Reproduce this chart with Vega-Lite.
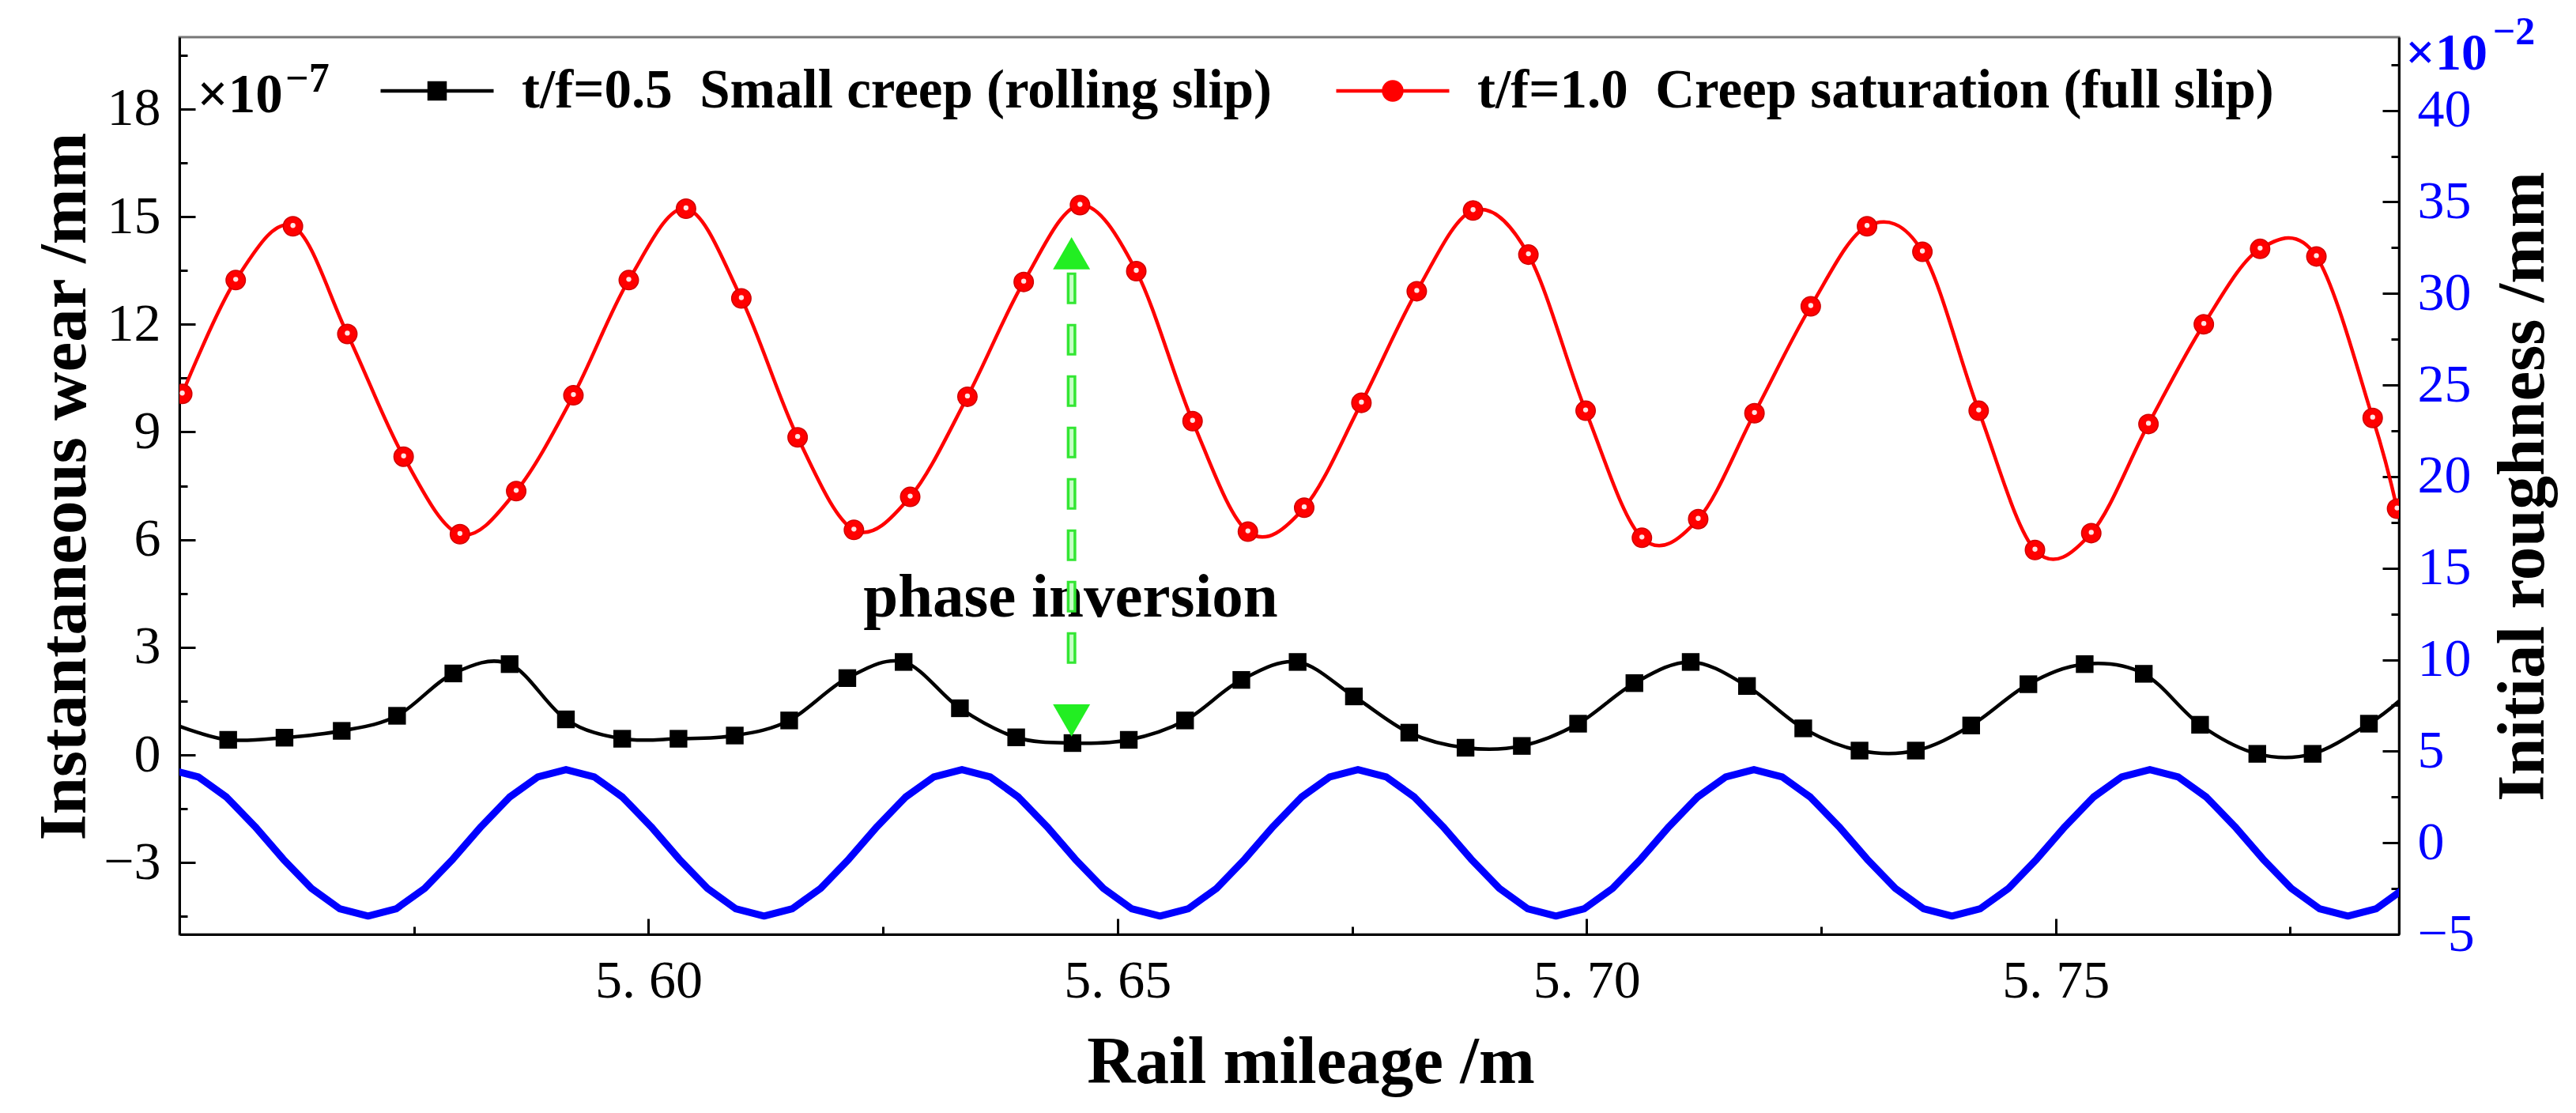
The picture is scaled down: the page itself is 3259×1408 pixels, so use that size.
{
  "$schema": "https://vega.github.io/schema/vega-lite/v6.json",
  "width": 2808,
  "height": 1135,
  "autosize": "none",
  "padding": {"left": 227, "top": 47, "right": 224, "bottom": 226},
  "background": "white",
  "config": {
    "view": {"stroke": "#777777", "strokeWidth": 3},
    "font": "Liberation Serif"
  },
  "datasets": {
    "wear": [
      {"s": "0.5", "x": 5.5501, "v": 0.79},
      {"s": "0.5", "x": 5.5552, "v": 0.42},
      {"s": "0.5", "x": 5.5612, "v": 0.48},
      {"s": "0.5", "x": 5.5673, "v": 0.67},
      {"s": "0.5", "x": 5.5732, "v": 1.09},
      {"s": "0.5", "x": 5.5792, "v": 2.27},
      {"s": "0.5", "x": 5.5852, "v": 2.53},
      {"s": "0.5", "x": 5.5912, "v": 0.99},
      {"s": "0.5", "x": 5.5972, "v": 0.45},
      {"s": "0.5", "x": 5.6032, "v": 0.45},
      {"s": "0.5", "x": 5.6092, "v": 0.54},
      {"s": "0.5", "x": 5.6150, "v": 0.96},
      {"s": "0.5", "x": 5.6212, "v": 2.14},
      {"s": "0.5", "x": 5.6272, "v": 2.59},
      {"s": "0.5", "x": 5.6332, "v": 1.30},
      {"s": "0.5", "x": 5.6392, "v": 0.49},
      {"s": "0.5", "x": 5.6452, "v": 0.33},
      {"s": "0.5", "x": 5.6512, "v": 0.42},
      {"s": "0.5", "x": 5.6572, "v": 0.96},
      {"s": "0.5", "x": 5.6632, "v": 2.09},
      {"s": "0.5", "x": 5.6692, "v": 2.59},
      {"s": "0.5", "x": 5.6752, "v": 1.63},
      {"s": "0.5", "x": 5.6811, "v": 0.62},
      {"s": "0.5", "x": 5.6871, "v": 0.20},
      {"s": "0.5", "x": 5.6931, "v": 0.25},
      {"s": "0.5", "x": 5.6991, "v": 0.87},
      {"s": "0.5", "x": 5.7051, "v": 2.00},
      {"s": "0.5", "x": 5.7111, "v": 2.59},
      {"s": "0.5", "x": 5.7171, "v": 1.92},
      {"s": "0.5", "x": 5.7231, "v": 0.74},
      {"s": "0.5", "x": 5.7291, "v": 0.12},
      {"s": "0.5", "x": 5.7351, "v": 0.12},
      {"s": "0.5", "x": 5.7410, "v": 0.82},
      {"s": "0.5", "x": 5.7471, "v": 1.97},
      {"s": "0.5", "x": 5.7531, "v": 2.53},
      {"s": "0.5", "x": 5.7594, "v": 2.26},
      {"s": "0.5", "x": 5.7654, "v": 0.84},
      {"s": "0.5", "x": 5.7715, "v": 0.03},
      {"s": "0.5", "x": 5.7774, "v": 0.03},
      {"s": "0.5", "x": 5.7834, "v": 0.87},
      {"s": "0.5", "x": 5.7866, "v": 1.50},
      {"s": "1.0", "x": 5.5503, "v": 10.06},
      {"s": "1.0", "x": 5.5560, "v": 13.23},
      {"s": "1.0", "x": 5.5621, "v": 14.73},
      {"s": "1.0", "x": 5.5679, "v": 11.73},
      {"s": "1.0", "x": 5.5739, "v": 8.31},
      {"s": "1.0", "x": 5.5799, "v": 6.15},
      {"s": "1.0", "x": 5.5859, "v": 7.35},
      {"s": "1.0", "x": 5.5920, "v": 10.02},
      {"s": "1.0", "x": 5.5979, "v": 13.23},
      {"s": "1.0", "x": 5.6040, "v": 15.22},
      {"s": "1.0", "x": 5.6099, "v": 12.72},
      {"s": "1.0", "x": 5.6159, "v": 8.85},
      {"s": "1.0", "x": 5.6219, "v": 6.27},
      {"s": "1.0", "x": 5.6279, "v": 7.19},
      {"s": "1.0", "x": 5.6340, "v": 9.98},
      {"s": "1.0", "x": 5.6400, "v": 13.18},
      {"s": "1.0", "x": 5.6460, "v": 15.32},
      {"s": "1.0", "x": 5.6520, "v": 13.48},
      {"s": "1.0", "x": 5.6580, "v": 9.30},
      {"s": "1.0", "x": 5.6639, "v": 6.22},
      {"s": "1.0", "x": 5.6699, "v": 6.89},
      {"s": "1.0", "x": 5.6760, "v": 9.81},
      {"s": "1.0", "x": 5.6819, "v": 12.92},
      {"s": "1.0", "x": 5.6879, "v": 15.17},
      {"s": "1.0", "x": 5.6938, "v": 13.94},
      {"s": "1.0", "x": 5.6999, "v": 9.59},
      {"s": "1.0", "x": 5.7059, "v": 6.05},
      {"s": "1.0", "x": 5.7119, "v": 6.57},
      {"s": "1.0", "x": 5.7179, "v": 9.52},
      {"s": "1.0", "x": 5.7239, "v": 12.50},
      {"s": "1.0", "x": 5.7299, "v": 14.73},
      {"s": "1.0", "x": 5.7358, "v": 14.02},
      {"s": "1.0", "x": 5.7418, "v": 9.59},
      {"s": "1.0", "x": 5.7478, "v": 5.71},
      {"s": "1.0", "x": 5.7538, "v": 6.18},
      {"s": "1.0", "x": 5.7599, "v": 9.22},
      {"s": "1.0", "x": 5.7658, "v": 12.00},
      {"s": "1.0", "x": 5.7718, "v": 14.10},
      {"s": "1.0", "x": 5.7778, "v": 13.89},
      {"s": "1.0", "x": 5.7838, "v": 9.39},
      {"s": "1.0", "x": 5.7864, "v": 6.86}
    ],
    "rough": [
      {"x": 5.54900, "r": 4.0}, {"x": 5.55202, "r": 3.6}, {"x": 5.55503, "r": 2.49}, {"x": 5.55805, "r": 0.89},
      {"x": 5.56106, "r": -0.89}, {"x": 5.56408, "r": -2.49}, {"x": 5.56709, "r": -3.6}, {"x": 5.57011, "r": -4.0},
      {"x": 5.57312, "r": -3.6}, {"x": 5.57614, "r": -2.49}, {"x": 5.57915, "r": -0.89}, {"x": 5.58217, "r": 0.89},
      {"x": 5.58518, "r": 2.49}, {"x": 5.58820, "r": 3.6}, {"x": 5.59121, "r": 4.0}, {"x": 5.59423, "r": 3.6},
      {"x": 5.59724, "r": 2.49}, {"x": 5.60026, "r": 0.89}, {"x": 5.60327, "r": -0.89}, {"x": 5.60629, "r": -2.49},
      {"x": 5.60930, "r": -3.6}, {"x": 5.61232, "r": -4.0}, {"x": 5.61533, "r": -3.6}, {"x": 5.61835, "r": -2.49},
      {"x": 5.62136, "r": -0.89}, {"x": 5.62438, "r": 0.89}, {"x": 5.62739, "r": 2.49}, {"x": 5.63041, "r": 3.6},
      {"x": 5.63342, "r": 4.0}, {"x": 5.63644, "r": 3.6}, {"x": 5.63945, "r": 2.49}, {"x": 5.64247, "r": 0.89},
      {"x": 5.64548, "r": -0.89}, {"x": 5.64850, "r": -2.49}, {"x": 5.65151, "r": -3.6}, {"x": 5.65453, "r": -4.0},
      {"x": 5.65754, "r": -3.6}, {"x": 5.66056, "r": -2.49}, {"x": 5.66357, "r": -0.89}, {"x": 5.66659, "r": 0.89},
      {"x": 5.66960, "r": 2.49}, {"x": 5.67262, "r": 3.6}, {"x": 5.67563, "r": 4.0}, {"x": 5.67865, "r": 3.6},
      {"x": 5.68166, "r": 2.49}, {"x": 5.68468, "r": 0.89}, {"x": 5.68769, "r": -0.89}, {"x": 5.69071, "r": -2.49},
      {"x": 5.69372, "r": -3.6}, {"x": 5.69674, "r": -4.0}, {"x": 5.69975, "r": -3.6}, {"x": 5.70277, "r": -2.49},
      {"x": 5.70578, "r": -0.89}, {"x": 5.70880, "r": 0.89}, {"x": 5.71181, "r": 2.49}, {"x": 5.71483, "r": 3.6},
      {"x": 5.71784, "r": 4.0}, {"x": 5.72086, "r": 3.6}, {"x": 5.72387, "r": 2.49}, {"x": 5.72689, "r": 0.89},
      {"x": 5.72990, "r": -0.89}, {"x": 5.73292, "r": -2.49}, {"x": 5.73593, "r": -3.6}, {"x": 5.73895, "r": -4.0},
      {"x": 5.74196, "r": -3.6}, {"x": 5.74498, "r": -2.49}, {"x": 5.74799, "r": -0.89}, {"x": 5.75101, "r": 0.89},
      {"x": 5.75402, "r": 2.49}, {"x": 5.75704, "r": 3.6}, {"x": 5.76005, "r": 4.0}, {"x": 5.76307, "r": 3.6},
      {"x": 5.76608, "r": 2.49}, {"x": 5.76910, "r": 0.89}, {"x": 5.77211, "r": -0.89}, {"x": 5.77513, "r": -2.49},
      {"x": 5.77814, "r": -3.6}, {"x": 5.78116, "r": -4.0}, {"x": 5.78417, "r": -3.6}, {"x": 5.78719, "r": -2.49}
    ]
  },
  "layer": [
    {
      "layer": [
        {
          "data": {"name": "rough"},
          "mark": {"type": "line", "color": "#0000ff", "strokeWidth": 9, "strokeJoin": "round", "clip": true},
          "encoding": {
            "x": {
              "field": "x", "type": "quantitative", "title": "Rail mileage /m",
              "scale": {"domain": [5.55, 5.7866], "nice": false, "zero": false},
              "axis": {
                "orient": "bottom",
                "values": [5.575, 5.6, 5.625, 5.65, 5.675, 5.7, 5.725, 5.75, 5.775],
                "labelExpr": "round(datum.value*1000) % 50 == 0 ? replace(format(datum.value, '.2f'), '.', '. ') : ''",
                "tickSize": {"condition": {"test": "round(datum.value*1000) % 50 == 0", "value": -20}, "value": -10},
                "tickWidth": 3, "tickColor": "black",
                "domainColor": "black", "domainWidth": 3, "grid": false,
                "labelFont": "Liberation Serif", "labelFontSize": 68, "labelColor": "black",
                "labelPadding": 45, "labelFlush": false, "labelOverlap": false,
                "titleFont": "Liberation Serif", "titleFontSize": 85, "titleFontWeight": "bold", "titleColor": "black",
                "titleX": 1431, "titleY": 187, "titleAlign": "center", "titleBaseline": "alphabetic"
              }
            },
            "y": {
              "field": "r", "type": "quantitative", "title": "Initial roughness /mm",
              "scale": {"domain": [-5, 44], "nice": false, "zero": false},
              "axis": {
                "orient": "right",
                "values": [-5, -2.5, 0, 2.5, 5, 7.5, 10, 12.5, 15, 17.5, 20, 22.5, 25, 27.5, 30, 32.5, 35, 37.5, 40, 42.5],
                "labelExpr": "round(datum.value*10) % 50 == 0 ? datum.label : ''",
                "tickSize": {"condition": {"test": "round(datum.value*10) % 50 == 0", "value": -21}, "value": -10},
                "tickWidth": 3, "tickColor": "black",
                "domainColor": "black", "domainWidth": 3, "grid": false,
                "labelFont": "Liberation Serif", "labelFontSize": 68, "labelColor": "#0000ff",
                "labelPadding": 44, "labelOverlap": false,
                "titleFont": "Liberation Serif", "titleFontSize": 85, "titleFontWeight": "bold", "titleColor": "black",
                "titleAngle": 270, "titleX": 182, "titleY": 568, "titleAlign": "center", "titleBaseline": "alphabetic"
              }
            }
          }
        },
        {
          "data": {"values": [{}]},
          "mark": {"type": "text", "text": "×10", "font": "Liberation Serif", "fontSize": 66, "fontWeight": "bold", "color": "#0000ff", "align": "left", "baseline": "alphabetic"},
          "encoding": {
            "x": {"datum": 5.7873, "type": "quantitative", "scale": {"domain": [5.55, 5.7866], "nice": false, "zero": false}},
            "y": {"datum": 42.23, "type": "quantitative", "scale": {"domain": [-5, 44], "nice": false, "zero": false}}
          }
        },
        {
          "data": {"values": [{}]},
          "mark": {"type": "text", "text": "−2", "font": "Liberation Serif", "fontSize": 50, "fontWeight": "bold", "color": "#0000ff", "align": "left", "baseline": "alphabetic"},
          "encoding": {
            "x": {"datum": 5.7966, "type": "quantitative", "scale": {"domain": [5.55, 5.7866], "nice": false, "zero": false}},
            "y": {"datum": 43.62, "type": "quantitative", "scale": {"domain": [-5, 44], "nice": false, "zero": false}}
          }
        }
      ]
    },
    {
      "layer": [
        {
          "data": {"name": "wear"},
          "mark": {"type": "line", "interpolate": "cardinal", "strokeWidth": 4.5, "clip": true},
          "encoding": {
            "x": {"field": "x", "type": "quantitative", "title": "Rail mileage /m", "scale": {"domain": [5.55, 5.7866], "nice": false, "zero": false}},
            "y": {
              "field": "v", "type": "quantitative", "title": "Instantaneous wear /mm",
              "scale": {"domain": [-5, 20], "nice": false, "zero": false},
              "axis": {
                "orient": "left",
                "values": [-4.5, -3, -1.5, 0, 1.5, 3, 4.5, 6, 7.5, 9, 10.5, 12, 13.5, 15, 16.5, 18, 19.5],
                "labelExpr": "round(datum.value*10) % 30 == 0 ? datum.label : ''",
                "tickSize": {"condition": {"test": "round(datum.value*10) % 30 == 0", "value": -20}, "value": -10},
                "tickWidth": 3, "tickColor": "black",
                "domainColor": "black", "domainWidth": 3, "grid": false,
                "labelFont": "Liberation Serif", "labelFontSize": 68, "labelColor": "black",
                "labelPadding": 44, "labelOverlap": false,
                "titleFont": "Liberation Serif", "titleFontSize": 85, "titleFontWeight": "bold", "titleColor": "black",
                "titleAngle": 270, "titleX": -120, "titleY": 568, "titleAlign": "center", "titleBaseline": "alphabetic"
              }
            },
            "color": {
              "field": "s", "type": "nominal",
              "scale": {"domain": ["0.5", "1.0"], "range": ["#000000", "#ff0000"]},
              "legend": {
                "orient": "none", "legendX": 252, "legendY": -6, "direction": "horizontal",
                "title": null, "padding": 0,
                "labelExpr": "datum.value == '0.5' ? 't/f=0.5\u00a0\u00a0Small creep (rolling slip)' : 't/f=1.0\u00a0\u00a0Creep saturation (full slip)'",
                "labelFont": "Liberation Serif", "labelFontSize": 69, "labelFontWeight": "bold", "labelColor": "black",
                "labelLimit": 3000, "labelOffset": 33, "columnPadding": 71,
                "symbolType": "M-1,0H1", "symbolSize": 20449, "symbolStrokeWidth": 4.5,
                "encode": {
                  "symbols": {
                    "update": {
                      "shape": {"signal": "datum.value == '0.5' ? 'M-1,0H1M-0.14,-0.14H0.14V0.14H-0.14Z' : 'M-1,0H1M0.16,0A0.16,0.16,0,1,1,-0.16,0A0.16,0.16,0,1,1,0.16,0Z'"},
                      "fill": {"signal": "datum.value == '0.5' ? '#000000' : '#ff0000'"},
                      "fillOpacity": {"value": 1}
                    }
                  }
                }
              }
            }
          }
        },
        {
          "data": {"name": "wear"},
          "transform": [{"filter": "datum.s == '0.5' && datum.x > 5.551 && datum.x < 5.786"}],
          "mark": {"type": "point", "shape": "square", "filled": true, "size": 500, "color": "#000000", "opacity": 1, "clip": true},
          "encoding": {
            "x": {"field": "x", "type": "quantitative", "title": "Rail mileage /m", "scale": {"domain": [5.55, 5.7866], "nice": false, "zero": false}},
            "y": {"field": "v", "type": "quantitative", "title": "Instantaneous wear /mm", "scale": {"domain": [-5, 20], "nice": false, "zero": false}}
          }
        },
        {
          "data": {"name": "wear"},
          "transform": [{"filter": "datum.s == '1.0'"}],
          "mark": {"type": "point", "shape": "circle", "filled": true, "size": 600, "fill": "#ff0000", "stroke": "#d00000", "strokeWidth": 1.5, "opacity": 1, "clip": true},
          "encoding": {
            "x": {"field": "x", "type": "quantitative", "title": "Rail mileage /m", "scale": {"domain": [5.55, 5.7866], "nice": false, "zero": false}},
            "y": {"field": "v", "type": "quantitative", "title": "Instantaneous wear /mm", "scale": {"domain": [-5, 20], "nice": false, "zero": false}}
          }
        },
        {
          "data": {"name": "wear"},
          "transform": [{"filter": "datum.s == '1.0'"}],
          "mark": {"type": "point", "shape": "circle", "filled": true, "size": 40, "color": "#ffe4e4", "opacity": 1, "yOffset": -1, "clip": true},
          "encoding": {
            "x": {"field": "x", "type": "quantitative", "title": "Rail mileage /m", "scale": {"domain": [5.55, 5.7866], "nice": false, "zero": false}},
            "y": {"field": "v", "type": "quantitative", "title": "Instantaneous wear /mm", "scale": {"domain": [-5, 20], "nice": false, "zero": false}}
          }
        },
        {
          "data": {"values": [{}]},
          "mark": {"type": "text", "text": "phase inversion", "font": "Liberation Serif", "fontSize": 79, "fontWeight": "bold", "color": "black", "align": "center", "baseline": "alphabetic"},
          "encoding": {
            "x": {"datum": 5.645, "type": "quantitative", "scale": {"domain": [5.55, 5.7866], "nice": false, "zero": false}},
            "y": {"datum": 3.85, "type": "quantitative", "scale": {"domain": [-5, 20], "nice": false, "zero": false}}
          }
        },
        {
          "data": {"values": [{}]},
          "mark": {"type": "rule", "color": "#33e633", "strokeWidth": 12, "strokeDash": [40, 25], "strokeCap": "butt"},
          "encoding": {
            "x": {"datum": 5.6451, "type": "quantitative", "scale": {"domain": [5.55, 5.7866], "nice": false, "zero": false}},
            "y": {"datum": 13.44, "type": "quantitative", "scale": {"domain": [-5, 20], "nice": false, "zero": false}},
            "y2": {"datum": 2.43}
          }
        },
        {
          "data": {"values": [{}]},
          "mark": {"type": "rule", "color": "#c4ffc4", "strokeWidth": 5, "strokeDash": [34, 31], "strokeDashOffset": -3, "strokeCap": "butt"},
          "encoding": {
            "x": {"datum": 5.6451, "type": "quantitative", "scale": {"domain": [5.55, 5.7866], "nice": false, "zero": false}},
            "y": {"datum": 13.44, "type": "quantitative", "scale": {"domain": [-5, 20], "nice": false, "zero": false}},
            "y2": {"datum": 2.43}
          }
        },
        {
          "data": {"values": [{}]},
          "mark": {"type": "point", "shape": "triangle-up", "filled": true, "size": 2209, "color": "#22ee22", "opacity": 1},
          "encoding": {
            "x": {"datum": 5.6451, "type": "quantitative", "scale": {"domain": [5.55, 5.7866], "nice": false, "zero": false}},
            "y": {"datum": 13.98, "type": "quantitative", "scale": {"domain": [-5, 20], "nice": false, "zero": false}}
          }
        },
        {
          "data": {"values": [{}]},
          "mark": {"type": "point", "shape": "triangle-down", "filled": true, "size": 2209, "color": "#22ee22", "opacity": 1},
          "encoding": {
            "x": {"datum": 5.6451, "type": "quantitative", "scale": {"domain": [5.55, 5.7866], "nice": false, "zero": false}},
            "y": {"datum": 0.96, "type": "quantitative", "scale": {"domain": [-5, 20], "nice": false, "zero": false}}
          }
        },
        {
          "data": {"values": [{}]},
          "mark": {"type": "text", "text": "×10", "font": "Liberation Serif", "fontSize": 69, "fontWeight": "bold", "color": "black", "align": "left", "baseline": "alphabetic"},
          "encoding": {
            "x": {"datum": 5.5519, "type": "quantitative", "scale": {"domain": [5.55, 5.7866], "nice": false, "zero": false}},
            "y": {"datum": 17.9, "type": "quantitative", "scale": {"domain": [-5, 20], "nice": false, "zero": false}}
          }
        },
        {
          "data": {"values": [{}]},
          "mark": {"type": "text", "text": "−7", "font": "Liberation Serif", "fontSize": 52, "fontWeight": "bold", "color": "black", "align": "left", "baseline": "alphabetic"},
          "encoding": {
            "x": {"datum": 5.5613, "type": "quantitative", "scale": {"domain": [5.55, 5.7866], "nice": false, "zero": false}},
            "y": {"datum": 18.48, "type": "quantitative", "scale": {"domain": [-5, 20], "nice": false, "zero": false}}
          }
        }
      ]
    }
  ],
  "resolve": {"scale": {"y": "independent"}}
}
